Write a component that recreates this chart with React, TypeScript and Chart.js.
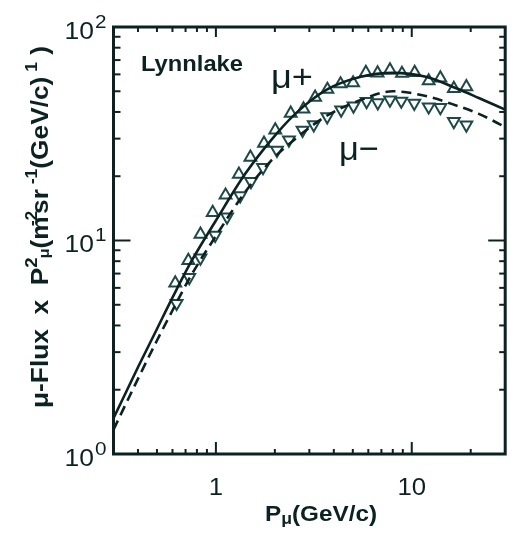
import React, { useEffect, useRef } from "react";
import { Chart, registerables } from "chart.js";

Chart.register(...registerables);

// ---- data ----
const momentumPlus = [0.62, 0.723, 0.834, 0.963, 1.12, 1.31, 1.5, 1.76, 2.01, 2.41, 2.8, 3.21, 3.71, 4.33, 5.02, 5.83, 6.69, 7.74, 8.91, 10.35, 12.2, 14.0, 16.4, 19.0];
const fluxPlus = [6.32, 8.06, 10.7, 13.5, 16.3, 20.4, 24.5, 28.5, 32.9, 39.4, 41.3, 46.8, 51.0, 54.1, 54.7, 61.2, 60.9, 62.9, 60.6, 61.2, 55.9, 57.7, 51.5, 52.5];
const momentumMinus = [0.63, 0.731, 0.834, 0.991, 1.14, 1.33, 1.51, 1.74, 2.05, 2.36, 2.77, 3.16, 3.7, 4.36, 5.04, 5.88, 6.71, 7.74, 8.84, 10.3, 12.2, 14.0, 16.4, 19.0];
const fluxMinus = [5.08, 6.71, 8.28, 10.6, 12.9, 16.2, 18.9, 22.0, 26.5, 29.6, 32.9, 34.9, 38.0, 40.9, 42.7, 44.8, 44.2, 45.5, 45.0, 44.0, 42.3, 42.0, 36.1, 34.8];

const fitMomentum = [0.3, 0.4, 0.5, 0.6, 0.75, 1.0, 1.4, 1.9, 2.55, 3.7, 5.5, 8, 11.8, 17, 22, 30];
const fitPlus = [1.47, 2.55, 3.85, 5.4, 8.0, 12.4, 20.3, 29.3, 39.3, 51.0, 58.5, 61.0, 58.5, 51.5, 46.5, 41.0];
const fitMinus = [1.3, 2.25, 3.4, 4.7, 6.9, 10.5, 16.7, 23.5, 30.0, 38.5, 45.5, 50.0, 47.5, 42.8, 39.2, 34.0];

const xMajorTicks = [1, 10];
const xMinorTicks = [0.4, 0.5, 0.6, 0.7, 0.8, 0.9, 2, 3, 4, 5, 6, 7, 8, 9, 20];
const yMajorTicks = [1, 10, 100];
const yMinorTicks = [2, 3, 4, 5, 6, 7, 8, 9, 20, 30, 40, 50, 60, 70, 80, 90];
const xTickLabels = ["1", "10"];
const yTickExponents = ["0", "1", "2"];

const siteLabel = "Lynnlake";
const plusLabel = "μ+";
const minusLabel = "μ−";

const FONT = '"Liberation Sans", Arial, Helvetica, sans-serif';
const INK = "#0c2222";
const MARK = "#1d4a48";

type Run = { t: string; size: number; dy?: number; bold?: boolean; gap?: number };

function setFont(ctx: CanvasRenderingContext2D, r: Run) {
  ctx.font = `${r.bold ? "bold " : ""}${r.size}px ${FONT}`;
}
function runsWidth(ctx: CanvasRenderingContext2D, runs: Run[]) {
  let w = 0;
  for (const r of runs) {
    setFont(ctx, r);
    w += (r.gap ?? 0) + ctx.measureText(r.t).width;
  }
  return w;
}
function drawRuns(ctx: CanvasRenderingContext2D, runs: Run[], x: number, y: number, sx: number) {
  let cx = x;
  for (const r of runs) {
    setFont(ctx, r);
    cx += (r.gap ?? 0) * sx;
    ctx.save();
    ctx.translate(cx, y + (r.dy ?? 0));
    ctx.scale(sx, 1);
    ctx.textAlign = "left";
    ctx.textBaseline = "alphabetic";
    ctx.fillText(r.t, 0, 0);
    ctx.restore();
    cx += ctx.measureText(r.t).width * sx;
  }
}

const decorPlugin = {
  id: "decor",
  afterDatasetsDraw(chart: any) {
    const ctx: CanvasRenderingContext2D = chart.ctx;
    const { left, right, top, bottom } = chart.chartArea;
    const xs = chart.scales.x;
    const ys = chart.scales.y;
    ctx.save();
    ctx.strokeStyle = INK;
    ctx.fillStyle = INK;
    ctx.lineWidth = 2;
    const tick = (x1: number, y1: number, x2: number, y2: number) => {
      ctx.beginPath();
      ctx.moveTo(x1, y1);
      ctx.lineTo(x2, y2);
      ctx.stroke();
    };
    for (const v of xMajorTicks) {
      const px = xs.getPixelForValue(v);
      tick(px, bottom, px, bottom - 12);
      tick(px, top, px, top + 10);
    }
    for (const v of xMinorTicks) {
      const px = xs.getPixelForValue(v);
      tick(px, bottom, px, bottom - 5);
      tick(px, top, px, top + 5);
    }
    for (const v of yMajorTicks) {
      const py = ys.getPixelForValue(v);
      tick(left, py, left + 17, py);
      tick(right, py, right - 17, py);
    }
    for (const v of yMinorTicks) {
      const py = ys.getPixelForValue(v);
      tick(left, py, left + 7, py);
      tick(right, py, right - 6, py);
    }
    ctx.lineWidth = 3;
    ctx.strokeRect(left, top, right - left, bottom - top);

    yMajorTicks.forEach((v, i) => {
      const py = ys.getPixelForValue(v);
      const runs: Run[] = [
        { t: "10", size: 23 },
        { t: yTickExponents[i], size: 18, dy: -11, gap: 1 },
      ];
      const sx = 1.15;
      const w = runsWidth(ctx, runs) * sx;
      drawRuns(ctx, runs, left - 7 - w, py + 11.5, sx);
    });
    xMajorTicks.forEach((v, i) => {
      const px = xs.getPixelForValue(v);
      const runs: Run[] = [{ t: xTickLabels[i], size: 23 }];
      const sx = 1.12;
      const w = runsWidth(ctx, runs) * sx;
      drawRuns(ctx, runs, px - w / 2, 495, sx);
    });
    {
      const runs: Run[] = [
        { t: "P", size: 22, bold: true },
        { t: "μ", size: 16, bold: true, dy: 3 },
        { t: "(GeV/c)", size: 22, bold: true },
      ];
      const sx = 112 / runsWidth(ctx, runs);
      drawRuns(ctx, runs, 265, 521, sx);
    }
    {
      const runs: Run[] = [
        { t: "μ-Flux  x  P", size: 24, bold: true },
        { t: "2", size: 17, bold: true, dy: -11 },
        { t: "μ", size: 15, bold: true, dy: 1, gap: -1 },
        { t: "(m", size: 24, bold: true },
        { t: "-2", size: 16, bold: true, dy: -11, gap: -9 },
        { t: "sr", size: 24, bold: true, gap: -3 },
        { t: " -1", size: 16, bold: true, dy: -11 },
        { t: "(GeV/c)", size: 24, bold: true },
        { t: " 1", size: 16, bold: true, dy: -11 },
        { t: " )", size: 24, bold: true },
      ];
      const sx = 362 / runsWidth(ctx, runs);
      ctx.save();
      ctx.translate(48, 408);
      ctx.rotate(-Math.PI / 2);
      drawRuns(ctx, runs, 0, 0, sx);
      ctx.restore();
    }
    {
      const runs: Run[] = [{ t: siteLabel, size: 22, bold: true }];
      const sx = 102 / runsWidth(ctx, runs);
      drawRuns(ctx, runs, 141, 71, sx);
    }
    {
      const runs: Run[] = [{ t: plusLabel, size: 34 }];
      const sx = 42 / runsWidth(ctx, runs);
      drawRuns(ctx, runs, 271, 88, sx);
    }
    {
      const runs: Run[] = [{ t: minusLabel, size: 34 }];
      const sx = 40 / runsWidth(ctx, runs);
      drawRuns(ctx, runs, 339, 160, sx);
    }
    ctx.restore();
  },
};

export default function App() {
  const ref = useRef<HTMLCanvasElement | null>(null);
  useEffect(() => {
    document.body.style.margin = "0";
    const canvas = ref.current;
    if (!canvas) return;
    const chart = new Chart(canvas, {
      type: "scatter",
      data: {
        datasets: [
          {
            type: "line",
            label: "fit μ+",
            data: fitMomentum.map((p, i) => ({ x: p, y: fitPlus[i] })),
            borderColor: INK,
            borderWidth: 2.6,
            pointRadius: 0,
            cubicInterpolationMode: "monotone",
            fill: false,
          } as any,
          {
            type: "line",
            label: "fit μ-",
            data: fitMomentum.map((p, i) => ({ x: p, y: fitMinus[i] })),
            borderColor: INK,
            borderWidth: 2.6,
            borderDash: [10, 6],
            pointRadius: 0,
            cubicInterpolationMode: "monotone",
            fill: false,
          } as any,
          {
            label: "μ+",
            data: momentumPlus.map((p, i) => ({ x: p, y: fluxPlus[i] })),
            pointStyle: "triangle",
            rotation: 0,
            pointRadius: 6.8,
            borderWidth: 2,
            borderColor: MARK,
            backgroundColor: "rgba(0,0,0,0)",
            showLine: false,
          },
          {
            label: "μ-",
            data: momentumMinus.map((p, i) => ({ x: p, y: fluxMinus[i] })),
            pointStyle: "triangle",
            rotation: 180,
            pointRadius: 6.8,
            borderWidth: 2,
            borderColor: MARK,
            backgroundColor: "rgba(0,0,0,0)",
            showLine: false,
          },
        ],
      },
      options: {
        responsive: false,
        animation: false,
        events: [],
        layout: { padding: { left: 113.5, right: 1, top: 27, bottom: 79 } },
        scales: {
          x: { type: "logarithmic", min: 0.3, max: 30, display: false },
          y: { type: "logarithmic", min: 1, max: 100, display: false },
        },
        plugins: {
          legend: { display: false },
          tooltip: { enabled: false },
          title: { display: false },
        },
      },
      plugins: [decorPlugin],
    });
    return () => chart.destroy();
  }, []);
  return (
    <div style={{ position: "absolute", left: 0, top: 0, width: 514, height: 533, background: "#fff" }}>
      <canvas ref={ref} width={514} height={533} style={{ display: "block" }} />
    </div>
  );
}
